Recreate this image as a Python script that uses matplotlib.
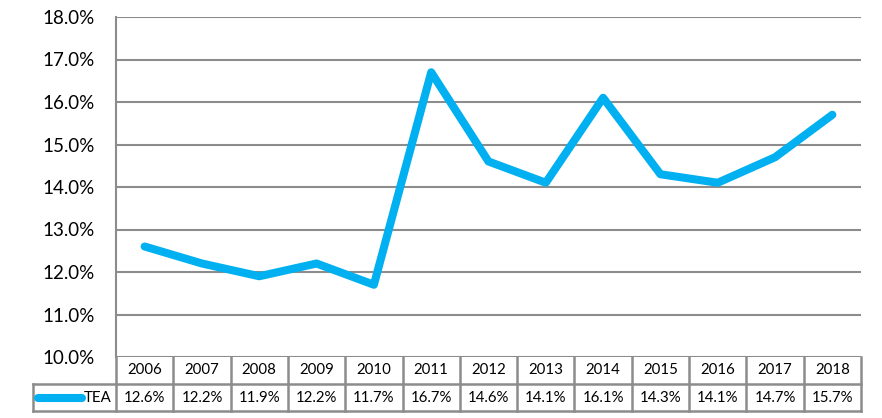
import matplotlib.pyplot as plt
from matplotlib.ticker import FuncFormatter

years = ['2006', '2007', '2008', '2009', '2010', '2011', '2012',
         '2013', '2014', '2015', '2016', '2017', '2018']
tea = [12.6, 12.2, 11.9, 12.2, 11.7, 16.7, 14.6, 14.1, 16.1, 14.3, 14.1, 14.7, 15.7]
series_name = 'TEA'

line_color = '#00B0F0'
grid_color = '#8C8C8C'
plt.rcParams['font.family'] = ['Lato', 'DejaVu Sans']

fig = plt.figure(figsize=(8.82, 4.18), dpi=100)
ax = fig.add_axes([116 / 882, 1 - 357 / 418, 745 / 882, 340 / 418])

x = list(range(len(years)))
ax.plot(x, tea, color=line_color, lw=5.8, solid_capstyle='round',
        solid_joinstyle='round', zorder=3)

ax.set_xlim(-0.5, len(years) - 0.5)
ax.set_ylim(10, 18)
ax.set_yticks(range(10, 19))
ax.yaxis.set_major_formatter(FuncFormatter(lambda v, p: f'{v:.1f}%'))
ax.tick_params(axis='y', length=0, pad=15, labelsize=13.5, labelcolor='black')
ax.set_xticks([])
ax.grid(axis='y', color=grid_color, lw=1.5)
ax.set_axisbelow(True)
for s in ['top', 'right', 'bottom']:
    ax.spines[s].set_visible(False)
ax.spines['left'].set_color(grid_color)
ax.spines['left'].set_linewidth(1.5)

# data table below the plot
rh = 27 / 340
col_w = 745 / 13
leg_left = -0.5 - (116 - 33) / col_w
tr = ax.get_xaxis_transform()
kw = dict(color=grid_color, lw=1.8, transform=tr, clip_on=False)
ax.plot([leg_left, len(years) - 0.5], [-rh, -rh], **kw)
ax.plot([leg_left, len(years) - 0.5], [-2 * rh, -2 * rh], **kw)
ax.plot([leg_left, leg_left], [-rh, -2 * rh], **kw)
for i in range(len(years) + 1):
    ax.plot([i - 0.5, i - 0.5], [0, -2 * rh], **kw)
for i, (yr, v) in enumerate(zip(years, tea)):
    ax.text(i, -rh / 2, yr, ha='center', va='center', fontsize=10.8,
            transform=tr, clip_on=False)
    ax.text(i, -1.5 * rh, f'{v:.1f}%', ha='center', va='center', fontsize=10.8,
            transform=tr, clip_on=False)

# legend key inside the table
lx0 = leg_left + 5 / col_w
lx1 = leg_left + 49 / col_w
ax.plot([lx0, lx1], [-1.5 * rh, -1.5 * rh], color=line_color, lw=5.8,
        solid_capstyle='round', transform=tr, clip_on=False)
ax.text(-0.5 - 4 / col_w, -1.5 * rh, series_name, ha='right', va='center',
        fontsize=10.8, transform=tr, clip_on=False)

fig.savefig('out.png', dpi=100)
